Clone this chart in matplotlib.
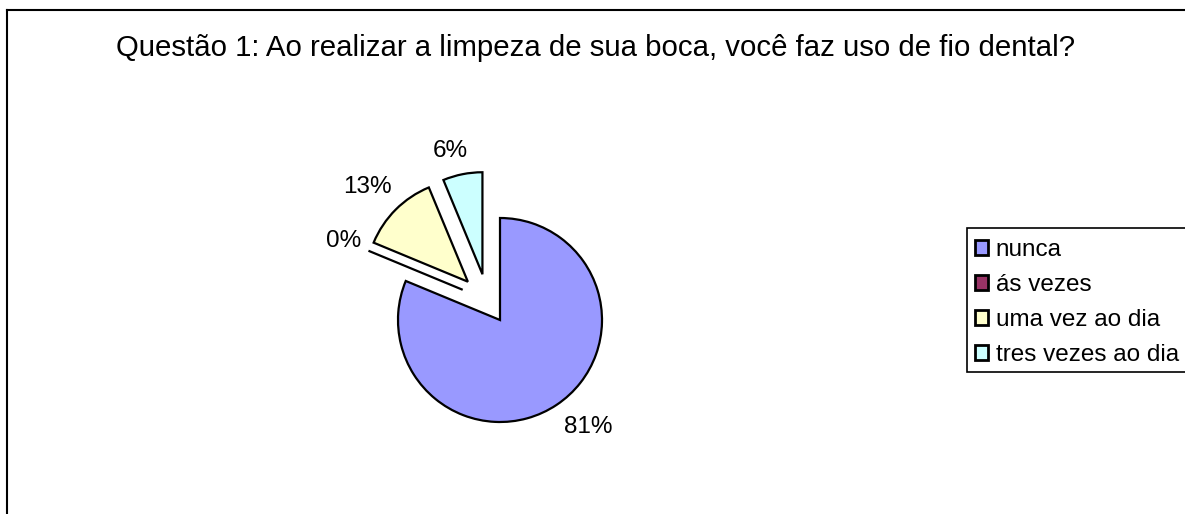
import numpy as np
import matplotlib
matplotlib.use("Agg")
import matplotlib.pyplot as plt
from matplotlib.patches import Patch, Rectangle
from matplotlib.lines import Line2D

plt.rcParams['font.family'] = ['Liberation Sans', 'DejaVu Sans']

title = "Questão 1: Ao realizar a limpeza de sua boca, você faz uso de fio dental?"
categories = ["nunca", "ás vezes", "uma vez ao dia", "tres vezes ao dia"]
counts = [13, 0, 2, 1]
pct_labels = ["81%", "0%", "13%", "6%"]
colors = ["#9999FF", "#993366", "#FFFFCC", "#CCFFFF"]

W, H = 1185, 514
fig = plt.figure(figsize=(W / 100, H / 100), dpi=100)
ax = fig.add_axes([0, 0, 1, 1])

R = 102
C = (500, H - 320)
wedges, _ = ax.pie(counts, colors=colors, startangle=90, counterclock=False,
                   center=C, radius=R,
                   wedgeprops=dict(edgecolor="black", linewidth=1.6),
                   frame=True)
ax.set_xlim(0, W)
ax.set_ylim(0, H)
ax.set_aspect('equal')
ax.set_axis_off()

# exploded slices (offset distance, angular deviation of offset direction)
expl_dist = [0, 48, 50, 49]
expl_dev = [0, -16.5, -5, 9.75]
for w, e, dv in zip(wedges, expl_dist, expl_dev):
    th = np.deg2rad((w.theta1 + w.theta2) / 2 + dv)
    w.set_center((C[0] + e * np.cos(th), C[1] + e * np.sin(th)))

# percentage labels placed from wedge geometry
dists = [1.36, 1.25, 1.35, 1.25]
dang = [5.5, -6, 0, 7]
for w, lab, d, da, e in zip(wedges, pct_labels, dists, dang, expl_dist):
    th = np.deg2rad((w.theta1 + w.theta2) / 2)
    cx = C[0] + e * np.cos(th)
    cy = C[1] + e * np.sin(th)
    th2 = th + np.deg2rad(da)
    ax.text(cx + d * w.r * np.cos(th2), cy + d * w.r * np.sin(th2), lab,
            ha="center", va="center", fontsize=17.5)

fig.text(596 / W, 1 - 48 / H, title, ha="center", va="center", fontsize=21.2)

# outer chart-area border (left and top visible)
fig.add_artist(Line2D([7 / W, 7 / W], [0, 1 - 10 / H], color="black", lw=1.5,
                      transform=fig.transFigure))
fig.add_artist(Line2D([7 / W, 1.0], [1 - 10 / H, 1 - 10 / H], color="black", lw=1.5,
                      transform=fig.transFigure))

# legend frame
fig.add_artist(Rectangle((967 / W, 1 - 372 / H), (1200 - 967) / W, (372 - 228) / H,
                         transform=fig.transFigure, facecolor="white",
                         edgecolor="black", lw=1.2, zorder=1))
handles = [Patch(facecolor=c, edgecolor="black", linewidth=2.0) for c in colors]
fig.legend(handles, categories, loc="upper left",
           bbox_to_anchor=(975 / W, 1 - 239 / H), bbox_transform=fig.transFigure,
           frameon=False, borderpad=0, borderaxespad=0, fontsize=17.5,
           handlelength=0.55, handleheight=0.55, handletextpad=0.3,
           labelspacing=0.54)

fig.savefig("out.png", dpi=100, facecolor="white")
